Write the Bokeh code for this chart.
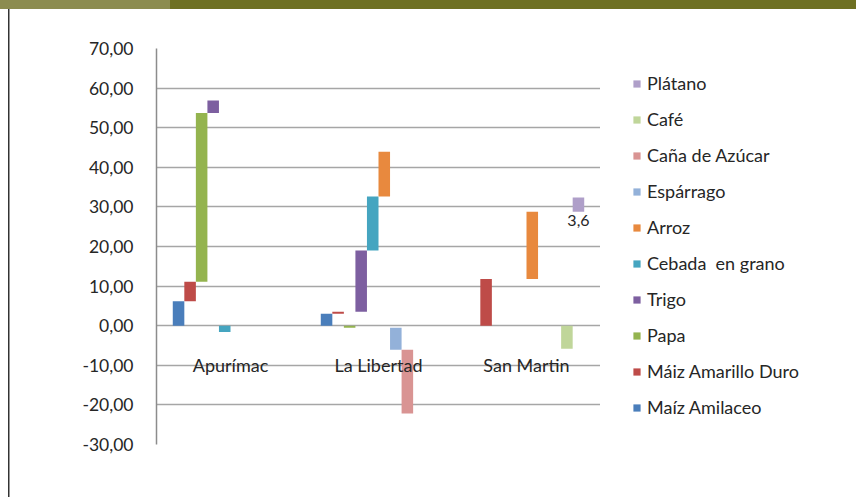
from bokeh.plotting import figure
from bokeh.layouts import row
from bokeh.models import (FactorRange, Range1d, ColumnDataSource, Legend, LegendItem,
                          FixedTicker)
from bokeh.transform import dodge
from bokeh.core.properties import value
from bokeh.embed import file_html
from bokeh.resources import INLINE

regions = ["Apurímac", "La Libertad", "San Martin"]
series = ["Maíz Amilaceo", "Máiz Amarillo Duro", "Papa", "Trigo", "Cebada  en grano",
          "Arroz", "Espárrago", "Caña de Azúcar", "Café", "Plátano"]
colors = ["#4A7EBB", "#BE4B48", "#94B44F", "#7D5FA0", "#45A5C0",
          "#E8893E", "#93B1D9", "#D99493", "#C0D69A", "#AF9FC9"]

# floating bars: base (start) and change per region
maiz_amilaceo_base = [0.0, 0.0, 0.0]
maiz_amilaceo = [6.2, 3.0, 0.0]
maiz_amarillo_base = [6.2, 3.0, 0.0]
maiz_amarillo = [4.9, 0.5, 11.8]
papa_base = [11.1, 0.0, 0.0]
papa = [42.6, -0.5, 0.0]
trigo_base = [53.7, 3.5, 0.0]
trigo = [3.2, 15.5, 0.0]
cebada_base = [0.0, 19.0, 0.0]
cebada = [-1.6, 13.6, 0.0]
arroz_base = [0.0, 32.6, 11.8]
arroz = [0.0, 11.3, 17.0]
esparrago_base = [0.0, -0.5, 0.0]
esparrago = [0.0, -5.6, 0.0]
cana_base = [0.0, -6.1, 0.0]
cana = [0.0, -16.1, 0.0]
cafe_base = [0.0, 0.0, 0.0]
cafe = [0.0, 0.0, -5.8]
platano_base = [0.0, 0.0, 28.8]
platano = [0.0, 0.0, 3.6]

bases = [maiz_amilaceo_base, maiz_amarillo_base, papa_base, trigo_base, cebada_base,
         arroz_base, esparrago_base, cana_base, cafe_base, platano_base]
changes = [maiz_amilaceo, maiz_amarillo, papa, trigo, cebada,
           arroz, esparrago, cana, cafe, platano]

y_ticks = [-30, -20, -10, 0, 10, 20, 30, 40, 50, 60, 70]

H = 497
W1, W2 = 600, 256
font = "Lato"
txt_col = "#262626"
hdr_light, hdr_dark = "#8C8C50", "#6E7022"

# ---------------- main chart ----------------
p = figure(width=W1, height=H, x_range=FactorRange(*regions), y_range=Range1d(-30, 70),
           output_backend="svg", toolbar_location=None,
           min_border_left=156, min_border_right=0, min_border_top=48, min_border_bottom=53)
p.outline_line_color = None
p.background_fill_color = "white"
p.border_fill_alpha = 0
p.styles = {
    "background-image": (f"linear-gradient({hdr_light},{hdr_light}), linear-gradient({hdr_dark},{hdr_dark}), "
                         "linear-gradient(#333333,#333333), linear-gradient(white,white)"),
    "background-size": "170px 9px, 100% 9px, 1.5px 100%, 100% 100%",
    "background-position": "0 0, 170px 0, 8px 9px, 0 0",
    "background-repeat": "no-repeat",
}

bw = 0.078
for i, (name, col) in enumerate(zip(series, colors)):
    src = ColumnDataSource(dict(region=regions,
                                bottom=bases[i],
                                top=[b + c for b, c in zip(bases[i], changes[i])]))
    p.vbar(x=dodge("region", (i - 4.5) * bw, range=p.x_range), bottom="bottom", top="top",
           width=bw, source=src, fill_color=col, line_color=None)

# data label for Plátano in San Martin
lab_src = ColumnDataSource(dict(
    region=[regions[2]], y=[platano_base[2]],
    txt=[f"{platano[2]:.1f}".replace(".", ",")]))
p.text(x=dodge("region", (9 - 4.5) * bw, range=p.x_range), y="y", text="txt", source=lab_src,
       text_font=value(font), text_font_size="16px", text_color=txt_col,
       text_align="center", text_baseline="top", y_offset=3)

# y axis
p.yaxis.ticker = FixedTicker(ticks=y_ticks)
p.yaxis.major_label_overrides = {t: f"{t:.2f}".replace(".", ",") for t in y_ticks}
p.yaxis.major_label_text_font = font
p.yaxis.major_label_text_font_size = "17.5px"
p.yaxis.major_label_text_color = txt_col
p.yaxis.axis_line_color = "#8C8C8C"
p.yaxis.axis_line_width = 1.5
p.yaxis.major_tick_line_color = None
p.yaxis.minor_tick_line_color = None
p.yaxis.major_label_standoff = 17

# x axis drawn at zero
p.xaxis.fixed_location = 0
p.xaxis.axis_line_color = None
p.xaxis.major_tick_line_color = None
p.xaxis.major_label_text_font = font
p.xaxis.major_label_text_font_size = "18px"
p.xaxis.major_label_text_color = txt_col
p.xaxis.major_label_standoff = 22

p.xgrid.grid_line_color = None
p.ygrid.grid_line_color = "#A6A6A6"
p.ygrid.grid_line_width = 1.5

# ---------------- legend panel ----------------
q = figure(width=W2, height=H, x_range=Range1d(0, 1), y_range=Range1d(0, 1),
           output_backend="svg", toolbar_location=None,
           x_axis_type=None, y_axis_type=None,
           min_border_left=0, min_border_right=0, min_border_top=0, min_border_bottom=0)
q.outline_line_color = None
q.background_fill_alpha = 0
q.border_fill_alpha = 0
q.xgrid.visible = False
q.ygrid.visible = False
q.styles = {
    "background-image": f"linear-gradient({hdr_dark},{hdr_dark}), linear-gradient(white,white)",
    "background-size": "100% 9px, 100% 100%",
    "background-position": "0 0, 0 0",
    "background-repeat": "no-repeat",
}

items = []
for i in range(9, -1, -1):
    # one off-range proxy bar per series, only to carry the legend swatch
    r = q.vbar(x=[5.0], bottom=[5.0], top=[5.0], width=0.1, fill_color=colors[i], line_color=None)
    items.append(LegendItem(label=series[i], renderers=[r]))

legend = Legend(items=items, location=(32, 26))
legend.glyph_width = 9
legend.glyph_height = 9
legend.label_height = 20
legend.spacing = 14
legend.padding = 0
legend.margin = 0
legend.label_standoff = 6
legend.border_line_color = None
legend.background_fill_alpha = 0
legend.label_text_font = font
legend.label_text_font_size = "18px"
legend.label_text_color = txt_col
q.add_layout(legend)

layout = row(p, q)
open("out.html", "w").write(file_html(layout, INLINE))
